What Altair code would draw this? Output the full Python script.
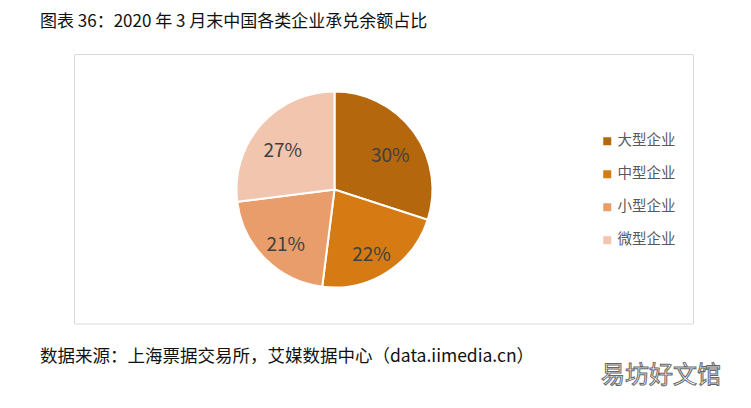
import altair as alt
import pandas as pd

categories = ["大型企业", "中型企业", "小型企业", "微型企业"]
shares = [30, 22, 21, 27]
labels = ["30%", "22%", "21%", "27%"]
colors = ["#B4670D", "#D67B13", "#E99D6B", "#F1C5AE"]

title_text = "图表 36：2020 年 3 月末中国各类企业承兑余额占比"
source_text = "数据来源：上海票据交易所，艾媒数据中心（data.iimedia.cn）"
watermark_text = "易坊好文馆"

df = pd.DataFrame({"cat": categories, "share": shares, "label": labels, "ord": list(range(len(categories)))})

FONT = "Noto Sans CJK SC"
OX, OY = 8, 8
cx, cy = 334.5 - OX, 189.5 - OY
R = 98

box = alt.Chart(pd.DataFrame({"a": [0]})).mark_rect(fill=None, stroke="#D9D9D9", strokeWidth=1).encode(
    x=alt.value(74.5 - OX), x2=alt.value(693.5 - OX), y=alt.value(54.5 - OY), y2=alt.value(324 - OY)
)

base = alt.Chart(df).encode(
    theta=alt.Theta("share:Q", stack=True),
    order=alt.Order("ord:Q"),
)

pie = base.mark_arc(outerRadius=R, stroke="white", strokeWidth=2).encode(
    x=alt.value(cx), y=alt.value(cy),
    color=alt.Color(
        "cat:N",
        sort=categories,
        scale=alt.Scale(domain=categories, range=colors),
        legend=alt.Legend(
            title=None, orient="none", legendX=592, legendY=126,
            symbolType="square", symbolSize=64, symbolStrokeWidth=0,
            labelFont=FONT, labelFontSize=14.5, labelColor="#595959",
            rowPadding=18, labelOffset=3,
        ),
    ),
)

txt = base.mark_text(radius=69, font=FONT, fontSize=19, color="#404040", dy=7).encode(
    x=alt.value(cx), y=alt.value(cy), text="label:N"
)

def label(t, x, y, size, color="#000000", align="left", **kw):
    return alt.Chart(pd.DataFrame({"t": [t]})).mark_text(
        font=FONT, fontSize=size, color=color, align=align, baseline="middle", **kw
    ).encode(x=alt.value(x - OX), y=alt.value(y - OY), text="t:N")

title = label(title_text, 40, 22, 17, "#111111")
source = label(source_text, 40, 357, 17.5, "#111111")
wm = label(watermark_text, 661, 376, 24, "#FFFFFF", align="center", stroke="#666666", strokeWidth=1)

chart = alt.layer(box, pie, txt, title, source, wm).properties(
    width=735, height=388, padding=0,
    autosize=alt.AutoSizeParams(type="none"),
).configure_view(strokeWidth=0, fill="white")

chart.save("out.html", embed_options={"renderer": "svg", "actions": False})
